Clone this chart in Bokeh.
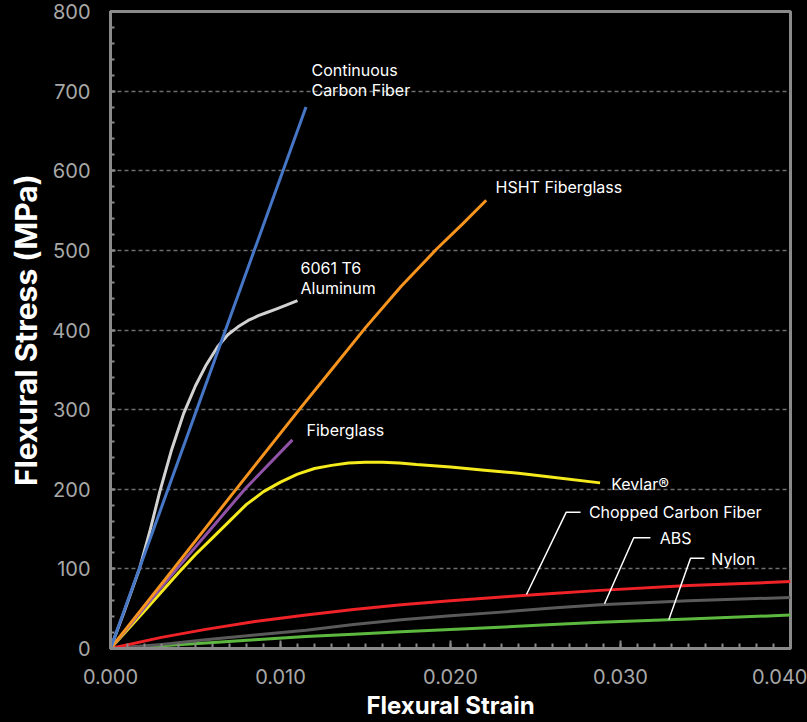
from bokeh.plotting import figure
from bokeh.models import FixedTicker, Range1d, ColumnDataSource
from bokeh.embed import file_html
from bokeh.resources import INLINE
from bokeh.core.properties import value

# ---- axis ticks ----
x_ticks = [0.0, 0.01, 0.02, 0.03, 0.04]
x_tick_labels = ["0.000", "0.010", "0.020", "0.030", "0.040"]
y_ticks = [0, 100, 200, 300, 400, 500, 600, 700, 800]

# ---- series (strain, stress MPa) ----
ccf_strain = [0.0, 0.0115]
ccf_stress = [0, 680]

hsht_strain = [0.0, 0.0037, 0.0075, 0.0111, 0.0130, 0.0150, 0.0171, 0.0192, 0.0207, 0.0221]
hsht_stress = [0, 100, 203, 300, 350, 403, 455, 502, 533, 563]

alu_strain = [0.0, 0.0008, 0.0017, 0.0023, 0.0029, 0.0036, 0.0043, 0.0050, 0.0056, 0.0063,
              0.0069, 0.0075, 0.0081, 0.0087, 0.0092, 0.0097, 0.0103, 0.0110]
alu_stress = [0, 46, 100, 146, 197, 250, 295, 330, 355, 379,
              394, 404, 412, 418, 422, 426, 431, 437]

fg_strain = [0.0, 0.0039, 0.0079, 0.0107]
fg_stress = [0, 100, 200, 262]

kev_strain = [0.0, 0.002, 0.004, 0.005, 0.006, 0.007, 0.008, 0.009, 0.010, 0.011, 0.012,
              0.013, 0.014, 0.015, 0.016, 0.017, 0.018, 0.020, 0.022, 0.024, 0.026, 0.0288]
kev_stress = [0, 47, 95, 118, 139, 160, 181, 197, 209, 219, 226,
              230, 233, 234, 234, 233, 231, 228, 224, 220, 215, 208]

ccfc_strain = [0.0, 0.003, 0.0056, 0.0085, 0.0115, 0.0143, 0.0171, 0.020, 0.0232, 0.026, 0.0288, 0.034, 0.040]
ccfc_stress = [0, 14, 24, 34, 42, 49, 55, 60, 65, 69, 73, 79, 84]

abs_strain = [0.0, 0.003, 0.0056, 0.0085, 0.0115, 0.0143, 0.0171, 0.020, 0.0232, 0.026, 0.0288, 0.034, 0.040]
abs_stress = [0, 5, 11, 17, 23, 30, 36, 41, 46, 51, 55, 60, 64]

nylon_strain = [0.0, 0.003, 0.0056, 0.0085, 0.0115, 0.0143, 0.0171, 0.020, 0.0232, 0.026, 0.0288, 0.034, 0.040]
nylon_stress = [0, 3.5, 7, 11, 15, 18, 21, 24, 27, 30, 33, 37, 42]

series = [
    (nylon_strain, nylon_stress, "#5cb83f"),
    (abs_strain, abs_stress, "#5a5a5a"),
    (ccfc_strain, ccfc_stress, "#ee2227"),
    (kev_strain, kev_stress, "#f4ea1c"),
    (fg_strain, fg_stress, "#8f52a6"),
    (hsht_strain, hsht_stress, "#f7941e"),
    (alu_strain, alu_stress, "#d2d2d2"),
    (ccf_strain, ccf_stress, "#4676c6"),
]

# ---- annotation texts ----
label_text = ["Continuous", "Carbon Fiber", "HSHT Fiberglass", "6061 T6", "Aluminum",
              "Fiberglass", "Kevlar\u00ae", "Chopped Carbon Fiber", "ABS", "Nylon"]
label_x = [0.01182, 0.01182, 0.02265, 0.01118, 0.01118, 0.01153, 0.02945, 0.02814, 0.03231, 0.03534]
label_y = [726, 701, 579, 478, 453, 274, 207, 171, 139, 113]

leader_xs = [[0.02447, 0.02681, 0.02765], [0.02906, 0.03078, 0.03176], [0.03284, 0.03412, 0.03494]]
leader_ys = [[67.8, 171.2, 171.2], [56.2, 139.1, 139.1], [36.1, 113.4, 113.4]]

FONT = "Inter"
GRAY = "#8a8a8a"

p = figure(width=807, height=722, x_range=Range1d(0, 0.04), y_range=Range1d(0, 800),
           output_backend="svg", toolbar_location=None,
           background_fill_color="black", border_fill_color="black",
           min_border_left=110, min_border_right=17, min_border_top=11, min_border_bottom=74)

p.outline_line_color = GRAY
p.outline_line_width = 3

for sx, sy, c in series:
    p.line(sx, sy, line_color=c, line_width=3, line_join="round")

p.multi_line(leader_xs, leader_ys, line_color="white", line_width=1.5)

src = ColumnDataSource(dict(x=label_x, y=label_y, text=label_text))
p.text(x="x", y="y", text="text", source=src, text_font=value(FONT), text_font_size="16px",
       text_color="white", text_align="left", text_baseline="middle")

# axes
p.xaxis.ticker = FixedTicker(ticks=x_ticks, minor_ticks=[i / 1000 for i in range(41)])
p.xaxis.major_label_overrides = {t: l for t, l in zip(x_ticks, x_tick_labels)}
p.yaxis.ticker = FixedTicker(ticks=y_ticks, minor_ticks=[i * 20 for i in range(41)])

for ax in (p.xaxis, p.yaxis):
    ax.axis_line_color = GRAY
    ax.axis_line_width = 3
    ax.major_tick_line_color = GRAY
    ax.minor_tick_line_color = GRAY
    ax.major_tick_line_width = 2
    ax.minor_tick_line_width = 2
    ax.major_tick_out = 0
    ax.minor_tick_out = 0
    ax.major_label_text_color = "#a8a8a8"
    ax.major_label_text_font = FONT
    ax.major_label_text_font_size = "20px"
    ax.axis_label_text_color = "white"
    ax.axis_label_text_font = FONT
    ax.axis_label_text_font_style = "bold"

p.xaxis.axis_label_text_font_size = "24px"
p.yaxis.axis_label_text_font_size = "30px"
p.xaxis.major_tick_in = 8
p.xaxis.minor_tick_in = 5
p.yaxis.major_tick_in = 5
p.yaxis.minor_tick_in = 4
p.xaxis.major_label_standoff = 20
p.yaxis.major_label_standoff = 20
p.xaxis.axis_label = "Flexural Strain"
p.yaxis.axis_label = "Flexural Stress (MPa)"
p.xaxis.axis_label_standoff = 4
p.yaxis.axis_label_standoff = 5

p.xgrid.grid_line_color = None
p.ygrid.ticker = FixedTicker(ticks=[100, 200, 300, 400, 500, 600, 700])
p.ygrid.grid_line_color = "#6e6e6e"
p.ygrid.grid_line_dash = "4 3"
p.ygrid.grid_line_width = 1.5

html = file_html(p, INLINE)
html = html.replace("<head>", "<head><style>html,body{background:#000;}</style>", 1)
open("out.html", "w").write(html)
